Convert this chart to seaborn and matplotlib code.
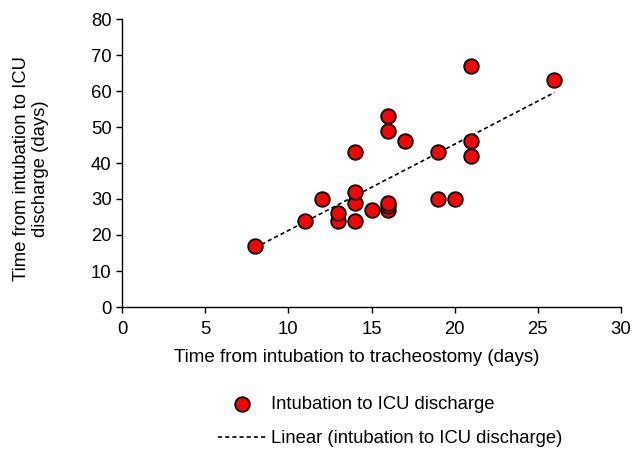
import matplotlib
matplotlib.use("Agg")
import matplotlib.pyplot as plt
import pandas as pd
import seaborn as sns

# time from intubation to tracheostomy (days) / to ICU discharge (days)
trach_days = [8, 11, 12, 13, 13, 14, 14, 14, 14, 15, 16, 16, 16, 16, 16,
              17, 19, 19, 20, 21, 21, 21, 26]
icu_days = [17, 24, 30, 24, 26, 24, 29, 32, 43, 27, 27, 28, 29, 49, 53,
            46, 30, 43, 30, 42, 46, 67, 63]

df = pd.DataFrame({"trach": trach_days, "icu": icu_days})

sns.set_theme(style="ticks")
plt.rcParams["font.family"] = ["Liberation Sans", "DejaVu Sans"]
plt.rcParams["text.color"] = "black"
FS = 13.3

fig = plt.figure(figsize=(6.33, 4.5), dpi=100)
ax = fig.add_axes([122 / 633, 1 - 307 / 450, 499 / 633, 288 / 450])

sns.regplot(data=df, x="trach", y="icu", scatter=False, ci=None, ax=ax,
            color="black",
            line_kws={"linestyle": (0, (2.5, 1.8)), "linewidth": 1.2})
trend = ax.lines[-1]

sns.scatterplot(data=df, x="trach", y="icu", ax=ax, s=110, color="#ff0000",
                edgecolor="black", linewidth=1.3, zorder=3)
dots = ax.collections[-1]

ax.set_xlim(0, 30)
ax.set_ylim(0, 80)
ax.set_xticks(range(0, 31, 5))
ax.set_yticks(range(0, 81, 10))
ax.tick_params(axis="both", labelsize=FS, length=4, width=1, color="black",
               labelcolor="black", direction="out")
ax.tick_params(axis="x", pad=6)
for side in ["top", "right"]:
    ax.spines[side].set_visible(False)
for side in ["left", "bottom"]:
    ax.spines[side].set_color("black")
    ax.spines[side].set_linewidth(1)

ax.set_xlabel("Time from intubation to tracheostomy (days)", fontsize=13.5,
              color="black")
ax.xaxis.set_label_coords(0.471, -0.145)
ax.set_ylabel("Time from intubation to ICU\ndischarge (days)", fontsize=FS,
              color="black")
ax.yaxis.set_label_coords(-0.146, 0.48)

ax.legend([dots, trend],
          ["Intubation to ICU discharge", "Linear (intubation to ICU discharge)"],
          loc="upper left", bbox_to_anchor=(218 / 633, 1 - 396 / 450),
          bbox_transform=fig.transFigure, frameon=False, fontsize=FS,
          handlelength=2.65, handletextpad=0.22, labelspacing=0.92,
          borderaxespad=0, borderpad=0)

fig.savefig("out.png", dpi=100)
